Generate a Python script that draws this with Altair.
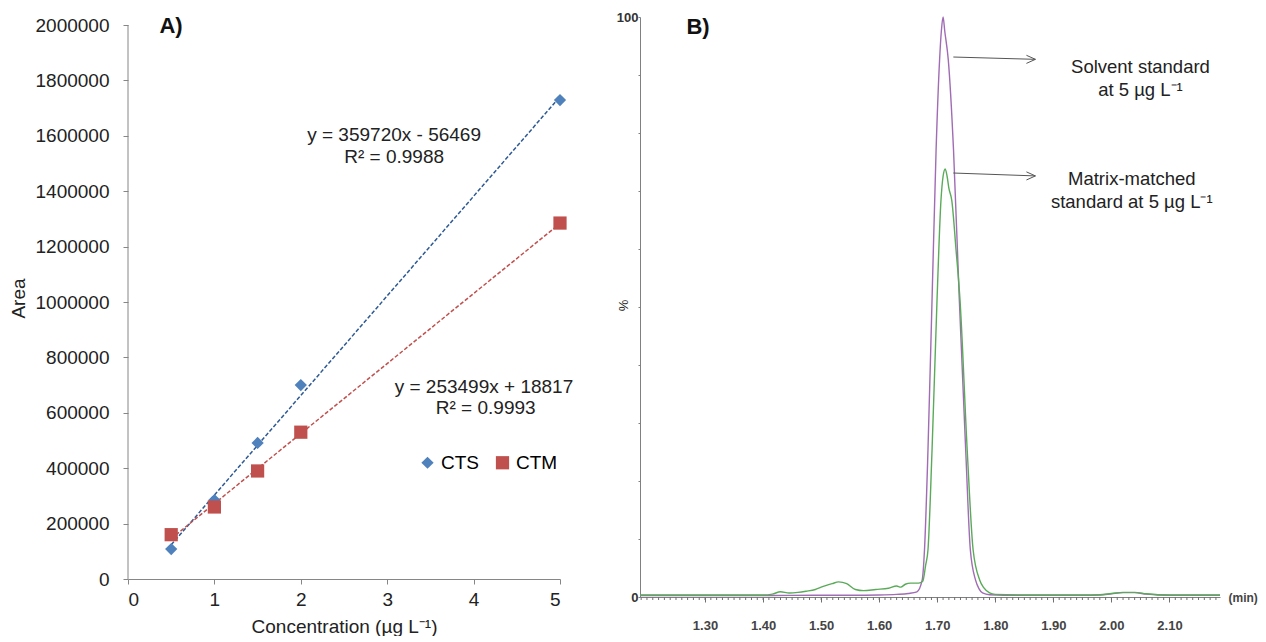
import altair as alt
import pandas as pd
import numpy as np

FONT = "Liberation Sans"

# ---------------- Panel A data ----------------
conc = [0.5, 1.0, 1.5, 2.0, 5.0]
cts_area = [108000, 285000, 491000, 700000, 1729000]
ctm_area = [160000, 260000, 390000, 530000, 1285000]
series_names = ["CTS", "CTM"]
a_xticks = [0, 1, 2, 3, 4, 5]
a_yticks = [0, 200000, 400000, 600000, 800000, 1000000, 1200000,
            1400000, 1600000, 1800000, 2000000]
eq_cts = ["y = 359720x - 56469", "R² = 0.9988"]
eq_ctm = ["y = 253499x + 18817", "R² = 0.9993"]

# ---------------- Panel B data ----------------
solv_t = [1.188, 1.30, 1.40, 1.50, 1.55, 1.60, 1.63, 1.65, 1.665, 1.674, 1.678,
          1.684, 1.691, 1.698, 1.704, 1.707, 1.710, 1.713, 1.719, 1.728, 1.738,
          1.749, 1.757, 1.766, 1.772, 1.778, 1.79, 1.85, 1.95, 1.98, 2.00, 2.02,
          2.04, 2.06, 2.08, 2.12, 2.187]
solv_i = [0.25, 0.25, 0.25, 0.3, 0.3, 0.35, 0.45, 0.6, 0.9, 2.9, 8.1,
          25.3, 51.2, 77.1, 92.6, 97.5, 100.0, 97.5, 92.6, 77.1, 51.2,
          25.3, 8.1, 2.9, 1.4, 0.7, 0.4, 0.3, 0.3, 0.35, 0.55, 0.75,
          0.75, 0.5, 0.35, 0.3, 0.3]
mm_t = [1.188, 1.30, 1.40, 1.416, 1.43, 1.445, 1.46, 1.474, 1.49, 1.50, 1.519,
        1.53, 1.544, 1.559, 1.573, 1.594, 1.616, 1.63, 1.637, 1.645, 1.654,
        1.668, 1.675, 1.680, 1.684, 1.691, 1.6996, 1.7064, 1.710, 1.7137,
        1.717, 1.720, 1.725, 1.7324, 1.7392, 1.7516, 1.7618, 1.7732, 1.78,
        1.7902, 1.80, 1.85, 1.95, 1.98, 2.00, 2.02, 2.04, 2.06, 2.08, 2.12, 2.187]
mm_i = [0.35, 0.35, 0.35, 0.5, 0.9, 0.7, 0.8, 1.0, 1.3, 1.7, 2.3,
        2.6, 2.3, 1.3, 1.1, 1.3, 1.5, 1.9, 1.7, 2.2, 2.4,
        2.4, 2.7, 5.5, 8.1, 25.3, 51.2, 68.4, 72.5, 73.8,
        72.5, 70.5, 68.4, 59.8, 51.2, 25.3, 8.1, 2.9, 1.6,
        0.7, 0.45, 0.35, 0.35, 0.4, 0.6, 0.8, 0.8, 0.55, 0.4, 0.35, 0.35]
b_major = [1.30, 1.40, 1.50, 1.60, 1.70, 1.80, 1.90, 2.00, 2.10]
b_minor = [round(1.19 + 0.01 * k, 2) for k in range(100)]
b_yticks = [0, 10, 20, 30, 40, 50, 60, 70, 80, 90, 100]
solv_label = ["Solvent standard", "at 5 µg L⁻¹"]
mm_label = ["Matrix-matched", "standard at 5 µg L⁻¹"]

# ---------------- Panel A ----------------
A_W, A_H = 432, 562
a_top = 2000000 * 562 / 554

dfA = pd.DataFrame({
    "conc": conc * 2,
    "area": cts_area + ctm_area,
    "series": ["CTS"] * len(conc) + ["CTM"] * len(conc),
})

xA = alt.X("conc:Q", scale=alt.Scale(domain=[0, 5], nice=False),
           axis=alt.Axis(values=a_xticks, format="d",
                         title="Concentration (µg L⁻¹)",
                         labelFontSize=19, titleFontSize=19, labelPadding=6,
                         titlePadding=8, tickSize=5, titleFontWeight="normal"))
yA = alt.Y("area:Q", scale=alt.Scale(domain=[0, a_top], nice=False),
           axis=alt.Axis(values=a_yticks, format="d", title="Area",
                         labelFontSize=19, titleFontSize=19, labelPadding=14,
                         titlePadding=7, tickSize=5, domain=False,
                         titleFontWeight="normal"))

leg = alt.Legend(orient="none", legendX=290, legendY=436,
                 direction="horizontal", title=None,
                 labelFontSize=19, symbolSize=150,
                 columnPadding=14, labelOffset=4,
                 padding=0, labelFont=FONT)

baseA = alt.Chart(dfA)
pts = baseA.mark_point(filled=True, opacity=1).encode(
    x=xA, y=yA,
    color=alt.Color("series:N", scale=alt.Scale(domain=series_names,
                                                range=["#4F81BD", "#C0504D"]),
                    legend=leg),
    shape=alt.Shape("series:N", scale=alt.Scale(domain=series_names,
                                                range=["diamond", "square"]),
                    legend=leg),
    size=alt.Size("series:N", scale=alt.Scale(domain=series_names,
                                              range=[150, 175]), legend=None),
)

reg_cts = baseA.transform_filter(alt.datum.series == "CTS").transform_regression(
    "conc", "area").mark_line(color="#2E5A94", strokeDash=[4, 2], strokeWidth=1.5
).encode(x="conc:Q", y="area:Q")
reg_ctm = baseA.transform_filter(alt.datum.series == "CTM").transform_regression(
    "conc", "area").mark_line(color="#C0504D", strokeDash=[4, 2], strokeWidth=1.5
).encode(x="conc:Q", y="area:Q")

one = pd.DataFrame({"k": [0]})
axis_rule = alt.Chart(one).mark_rule(color="#868686", strokeWidth=1).encode(
    x=alt.value(0), y=alt.datum(0), y2=alt.datum(2000000))


def txt(data_chart, xv, yv, s, size=19, weight="normal", color="#222"):
    return data_chart.mark_text(font=FONT, fontSize=size, fontWeight=weight,
                                color=color, align="center", baseline="middle"
                                ).encode(x=xv, y=yv, text=alt.value(s))


cA = alt.Chart(one)
eqs = [
    txt(cA, alt.datum(3.08), alt.datum(1603000), eq_cts[0]),
    txt(cA, alt.datum(3.08), alt.datum(1523000), eq_cts[1]),
    txt(cA, alt.datum(4.12), alt.datum(693000), eq_ctm[0]),
    txt(cA, alt.datum(4.14), alt.datum(617000), eq_ctm[1]),
    txt(cA, alt.value(43), alt.value(9), "A)", size=22, weight="bold", color="#111"),
]

panelA = alt.layer(axis_rule, reg_cts, reg_ctm, pts, *eqs).properties(
    width=A_W, height=A_H)

# ---------------- Panel B ----------------
B_W, B_H = 580, 580
dfS = pd.DataFrame({"t": solv_t, "i": solv_i})
dfM = pd.DataFrame({"t": mm_t, "i": mm_i})
dfMinor = pd.DataFrame({"t": b_minor})

xB = alt.X("t:Q", scale=alt.Scale(domain=[1.188, 2.187], nice=False),
           axis=alt.Axis(values=b_major, format=".2f", labelOverlap=False,
                         labelFontSize=13, labelFontWeight="bold",
                         labelPadding=17, tickSize=5,
                         title="(min)", titleX=588, titleY=0, titleAlign="left",
                         titleBaseline="middle", titleFontSize=12,
                         titleFontWeight="bold", labelColor="#444",
                         titleColor="#444",
                         domainColor="#808080", tickColor="#707070"))
yB = alt.Y("i:Q", scale=alt.Scale(domain=[0, 100], nice=False),
           axis=alt.Axis(values=b_yticks,
                         labelExpr="(datum.value == 0 || datum.value == 100) ? datum.value : ''",
                         labelOverlap=False, labelFontWeight="bold",
                         labelFontSize=13, labelPadding=0, tickSize=2,
                         title="%", titleX=-10, titleY=288, titleFontSize=13,
                         titleFontWeight="normal", labelColor="#333",
                         domainColor="#808080", tickColor="#808080"))

minor_ticks = alt.Chart(dfMinor).mark_rule(color="#707070", strokeWidth=1).encode(
    x=xB, y=alt.value(B_H), y2=alt.value(B_H + 3))

line_s = alt.Chart(dfS).mark_line(color="#A06CB4", strokeWidth=1.4,
                                  interpolate="monotone").encode(x="t:Q", y=yB)
line_m = alt.Chart(dfM).mark_line(color="#5AAA5A", strokeWidth=1.4,
                                  interpolate="monotone").encode(x="t:Q", y="i:Q")

cB = alt.Chart(one)
arrow_path = "M-1,-0.45L0,0L-1,0.45"
arrows = [
    cB.mark_rule(color="#555", strokeWidth=1).encode(
        x=alt.datum(1.7277), x2=alt.datum(1.8691),
        y=alt.datum(93.1), y2=alt.datum(92.7)),
    cB.mark_point(shape=arrow_path, filled=False, size=324, color="#555",
                  strokeWidth=1, opacity=1).encode(
        x=alt.datum(1.8691), y=alt.datum(92.7)),
    cB.mark_rule(color="#555", strokeWidth=1).encode(
        x=alt.datum(1.7277), x2=alt.datum(1.8691),
        y=alt.datum(73.1), y2=alt.datum(72.6)),
    cB.mark_point(shape=arrow_path, filled=False, size=324, color="#555",
                  strokeWidth=1, opacity=1).encode(
        x=alt.datum(1.8691), y=alt.datum(72.6)),
]
labelsB = [
    txt(cB, alt.datum(2.050), alt.datum(91.4), solv_label[0], size=18.5),
    txt(cB, alt.datum(2.050), alt.datum(87.4), solv_label[1], size=18.5),
    txt(cB, alt.datum(2.035), alt.datum(72.1), mm_label[0], size=18.5),
    txt(cB, alt.datum(2.035), alt.datum(68.1), mm_label[1], size=18.5),
    txt(cB, alt.value(58), alt.value(10), "B)", size=22, weight="bold", color="#111"),
]

panelB = alt.layer(minor_ticks, line_s, line_m, *arrows, *labelsB).properties(
    width=B_W, height=B_H)

chart = alt.hconcat(panelA, panelB, spacing=80, bounds="flush").properties(
    padding={"left": 1, "top": 3, "right": 0, "bottom": 0}
).configure(font=FONT).configure_view(stroke=None).configure_axis(
    grid=False, labelFont=FONT, titleFont=FONT, domainColor="#868686",
    tickColor="#868686", labelColor="#222", titleColor="#222"
)

chart.save("out.html", embed_options={"renderer": "svg", "actions": False})
